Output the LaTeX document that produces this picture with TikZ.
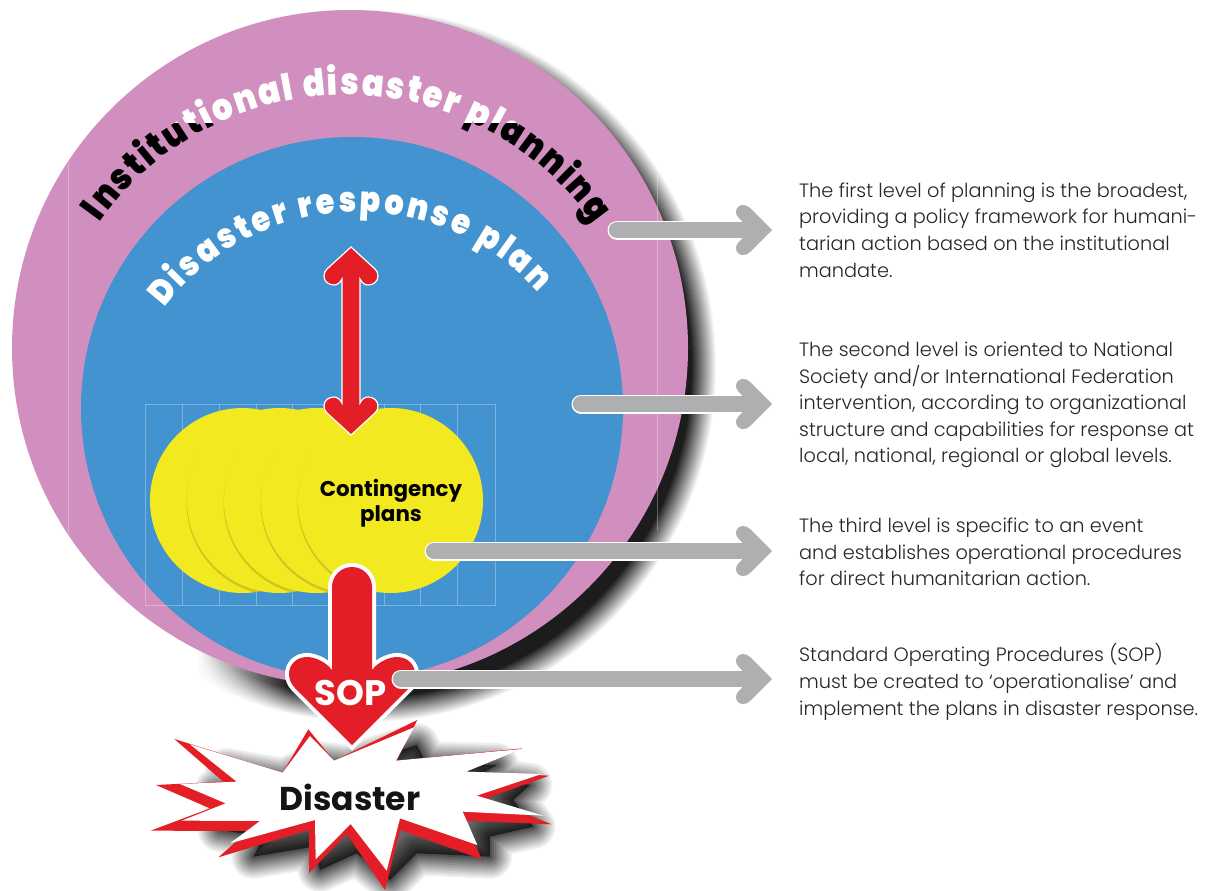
\documentclass[tikz,border=0pt]{standalone}
\usepackage{fontspec}
\usetikzlibrary{decorations.text,fadings}
\setmainfont{Poppins}
\newfontfamily\bodyf[UprightFont=* Light]{Poppins}
\newfontfamily\titlef[FakeStretch=0.87,UprightFont=* Black]{Poppins}
\newfontfamily\boldf[UprightFont=* Bold]{Poppins}
\definecolor{pinkc}{HTML}{D08FBE}
\definecolor{bluec}{HTML}{4293CF}
\definecolor{yellowc}{HTML}{F3E921}
\definecolor{grayc}{HTML}{AEAFB1}
\definecolor{redc}{HTML}{E31E26}
\tikzset{
  bodytext/.style={anchor=west,inner sep=0pt,align=left,text=black!85,font=\bodyf\fontsize{19.3}{26.6}\selectfont},
  guide/.style={white,opacity=.3,line width=.6pt},
  yellowdisc/.style={fill=yellowc},
}
\newcommand{\grayarrow}[2]{%
  \draw[white,line width=19,line cap=round,shorten >=26pt] (#1) -- (#2);
  \draw[grayc,line width=16.4,line cap=round,shorten >=26pt] (#1) -- (#2);
  \fill[grayc,shift={(#2)}] (-30,-9) .. controls (-33,-12) and (-36,-14) .. (-36,-18)
     .. controls (-36,-22) and (-33,-25) .. (-29,-25)
     .. controls (-26,-25) and (-24,-24) .. (-22,-22) -- (0,0)
     -- (-22,22) .. controls (-24,24) and (-26,25) .. (-29,25)
     .. controls (-33,25) and (-36,22) .. (-36,18)
     .. controls (-36,14) and (-33,12) .. (-30,9) -- cycle;
}
\def\starred{(505,298)--(582,392)--(832,270)--(770,392)--(1147,355)--(978,425)--(1228,437)--(1040,505)--(1235,583)--(975,572)--(1025,688)--(780,600)--(735,780)--(620,612)--(507,730)--(507,600)--(235,682)--(325,603)--(32,602)--(210,535)--(48,465)--(250,455)--(103,327)--(428,428)--cycle}
\def\starwhite{(510,318)--(582,392)--(822,292)--(768,392)--(1145,357)--(978,425)--(1205,432)--(1010,497)--(1210,557)--(968,545)--(1012,645)--(780,565)--(740,722)--(632,582)--(527,688)--(525,570)--(270,640)--(360,573)--(125,572)--(257,520)--(120,462)--(290,455)--(150,343)--(428,428)--cycle}
\def\starshade{(540,400)--(620,410)--(830,345)--(860,400)--(1070,405)--(1010,440)--(1170,465)--(1120,510)--(1180,590)--(1050,620)--(1050,680)--(830,670)--(750,750)--(650,670)--(540,720)--(520,650)--(340,680)--(370,620)--(240,600)--(280,530)--(230,480)--(320,480)--(260,420)--(430,450)--cycle}
\begin{document}
\begin{tikzpicture}[x=1pt,y=-1pt]
\useasboundingbox (0,0) rectangle (1216,891);
% circle shadow: linear ramp
\begin{scope}
  \clip (197,0) rectangle (1216,891);
  \foreach \d [count=\k] in {0,1,...,24}{
    \pgfmathsetmacro\al{1/(25-\k+4)}
    \pgfmathsetmacro\rx{350-\d}
    \pgfmathsetmacro\ry{356-\d}
    \fill[black,opacity=\al] (366,366) ellipse[x radius=\rx,y radius=\ry];}
  \fill[white,path fading=east] (197,640) rectangle (290,730);
\end{scope}
\node[circle,fill=pinkc,minimum size=676pt,inner sep=0pt,outer sep=0pt] (outer) at (350,348) {};
\draw[guide] (68,162) -- (68,534);
\draw[guide] (657,160) -- (657,530);
\node[circle,fill=bluec,minimum size=542pt,inner sep=0pt,outer sep=0pt] (middle) at (352,408) {};
% faint grid
\draw[guide] (145,404) rectangle (495,605);
\foreach \x in {182,219,256,292,384,420,457}{\draw[guide] (\x,404) -- (\x,605);}
% yellow discs
\fill[yellowdisc] (242.5,500.5) circle[radius=92.5];
\begin{scope}\clip (242.5,500.5) circle[radius=92.5];
  \fill[black,opacity=.15] (279,503) circle[radius=92.5];\end{scope}
\fill[yellowdisc] (279.5,500.5) circle[radius=92.5];
\begin{scope}\clip (279.5,500.5) circle[radius=92.5];
  \fill[black,opacity=.15] (316,503) circle[radius=92.5];\end{scope}
\fill[yellowdisc] (316.5,500.5) circle[radius=92.5];
\begin{scope}\clip (316.5,500.5) circle[radius=92.5];
  \fill[black,opacity=.15] (353,503) circle[radius=92.5];\end{scope}
\fill[yellowdisc] (353.5,500.5) circle[radius=92.5];
\begin{scope}\clip (353.5,500.5) circle[radius=92.5];
  \fill[black,opacity=.15] (390,503) circle[radius=92.5];\end{scope}
\node[circle,fill=yellowc,minimum size=185pt,inner sep=0pt,outer sep=0pt] (contingency) at (390.5,500.5) {};
\node[inner sep=0pt,align=center,font=\boldf\fontsize{21.4}{25}\selectfont] (conttext) at (391,503) {Contingency\\plans};
% curved titles
\begin{scope}
  \clip (0,0) rectangle (1216,123);
  \path[decorate,decoration={text along path,text align={fit to path},
     text={|\titlef\fontsize{37}{37}\selectfont\color{white}|Institutional disaster planning}}]
     (346,397) ++(215.4:302) arc[start angle=215.4,end angle=325,radius=302];
\end{scope}
\begin{scope}
  \clip (0,123) rectangle (1216,891);
  \path[decorate,decoration={text along path,text align={fit to path},
     text={|\titlef\fontsize{37}{37}\selectfont\color{black}|Institutional disaster planning}}]
     (346,397) ++(215.4:302) arc[start angle=215.4,end angle=325,radius=302];
\end{scope}
\path[decorate,decoration={text along path,text align={fit to path},
   text={|\titlef\fontsize{35}{35}\selectfont\color{white}|Disaster response plan}}]
   (358,455) ++(217.2:243) arc[start angle=217.2,end angle=318,radius=243];
% red double arrow
\coordinate (dtop) at (351,247);
\coordinate (dbot) at (351,435);
\draw[white,line width=1.2pt,fill=redc,line join=miter] (dtop) -- (375,269)
   .. controls (377,271) and (378,273) .. (378,276) .. controls (378,281) and (374,285) .. (368,285)
   .. controls (365,285) and (362,283) .. (360,279) -- (360,403)
   .. controls (362,399) and (365,397) .. (368,397) .. controls (374,397) and (378,401) .. (378,406)
   .. controls (378,409) and (377,411) .. (375,413) -- (dbot) -- (327,413)
   .. controls (325,411) and (324,409) .. (324,406) .. controls (324,401) and (328,397) .. (334,397)
   .. controls (337,397) and (340,399) .. (342,403) -- (342,279)
   .. controls (340,283) and (337,285) .. (334,285) .. controls (328,285) and (324,281) .. (324,276)
   .. controls (324,273) and (325,271) .. (327,269) -- cycle;
% star
\begin{scope}[shift={(140,630)},x=.33333pt,y=-.33333pt]
  \foreach \w [count=\k] in {44,40,...,4}{
    \pgfmathsetmacro\al{1/(11-\k+6)}
    \draw[black,opacity=\al,line width=\w pt,line join=round] \starshade;}
  \fill[black,opacity=.6] \starshade;
  \fill[redc] \starred;
  \fill[white] \starwhite;
\end{scope}
\node[inner sep=0pt,font=\boldf\fontsize{33}{33}\selectfont,text=black!92] (disaster) at (350,797) {Disaster};
% SOP arrow
\coordinate (soptip) at (352,745);
\def\soppath{(soptip) -- (409,688) .. controls (413,684) and (415,679) .. (415,674)
   .. controls (415,665) and (408,657) .. (397,657) .. controls (389,657) and (378,662) .. (372,670)
   -- (372,587) arc[start angle=0,end angle=-180,radius=20]
   -- (332,670) .. controls (326,662) and (315,657) .. (307,657)
   .. controls (296,657) and (289,665) .. (289,674) .. controls (289,679) and (291,684) .. (295,688) -- cycle}
\draw[white,line width=8pt,line join=miter] \soppath;
\fill[redc] \soppath;
\node[inner sep=0pt,font=\boldf\fontsize{35.5}{35.5}\selectfont,text=white] (soplabel) at (350.5,693) {SOP};
% gray arrows
\coordinate (a1s) at (617,230); \coordinate (a1e) at (772,230);
\coordinate (a2s) at (581,404); \coordinate (a2e) at (772,404);
\coordinate (a3s) at (434,551); \coordinate (a3e) at (772,551);
\coordinate (a4s) at (401,679); \coordinate (a4e) at (772,679);
\grayarrow{a1s}{a1e}
\grayarrow{a2s}{a2e}
\grayarrow{a3s}{a3e}
\grayarrow{a4s}{a4e}
% text
\node[bodytext] (t1) at (799,230) {The first level of planning is the broadest,\\providing a policy framework for humani-\\tarian action based on the institutional\\mandate.};
\node[bodytext] (t2) at (799,405) {The second level is oriented to National\\Society and/or International Federation\\intervention, according to organizational\\structure and capabilities for response at\\local, national, regional or global levels.};
\node[bodytext] (t3) at (799,552) {The third level is specific to an event\\and establishes operational procedures\\for direct humanitarian action.};
\node[bodytext] (t4) at (799,682) {Standard Operating Procedures (SOP)\\must be created to ‘operationalise’ and\\implement the plans in disaster response.};
\end{tikzpicture}
\end{document}
